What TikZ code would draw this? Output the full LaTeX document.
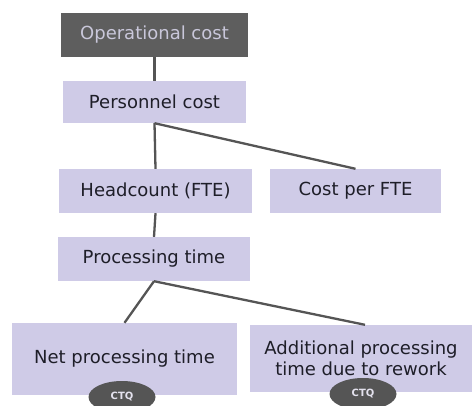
\documentclass[tikz,border=0pt]{standalone}
\usepackage{fontspec}
\setmainfont{DejaVu Sans}
\usetikzlibrary{shapes.geometric}
\definecolor{darkbox}{HTML}{5E5E5E}
\definecolor{darktext}{HTML}{C9C7DA}
\definecolor{lavender}{HTML}{CFCBE7}
\definecolor{linkgray}{HTML}{555555}
\definecolor{inktext}{HTML}{1E1E28}
\definecolor{ctqtext}{HTML}{E4E2EE}
\tikzset{
  box/.style={rectangle, fill=lavender, inner sep=0pt, text=inktext,
    font=\fontsize{18}{21}\selectfont, align=center},
  topbox/.style={box, fill=darkbox, text=darktext},
  link/.style={draw=linkgray, line width=2.3pt},
  ctq/.style={ellipse, fill=linkgray, text=ctqtext, inner sep=0pt,
    minimum width=67pt, minimum height=32pt,
    font=\fontsize{10}{11}\selectfont\bfseries}
}
\begin{document}
\begin{tikzpicture}[x=1pt,y=-1pt]
  \clip (0,0) rectangle (473,406);
  \fill[white] (0,0) rectangle (473,406);

  \node[topbox, minimum width=187pt, minimum height=44pt] (op) at (154.5,35) {Operational cost};
  \node[box, minimum width=183pt, minimum height=42pt] (pc) at (154.5,102) {Personnel cost};
  \node[box, minimum width=193pt, minimum height=44pt] (hc) at (155.5,191) {Headcount (FTE)};
  \node[box, minimum width=171pt, minimum height=44pt] (cf) at (355.5,191) {Cost per FTE};
  \node[box, minimum width=192pt, minimum height=44pt] (pt) at (154,259) {Processing time};
  \node[box, minimum width=225pt, minimum height=72pt] (np) at (124.5,359) {Net processing time};
  \node[box, minimum width=222pt, minimum height=67pt] (ap) at (361,358.5) {Additional processing\\time due to rework};

  \node[ctq] (c1) at (122,397) {CTQ};
  \node[ctq] (c2) at (363,394) {CTQ};

  \draw[link] (op.south) -- (pc.north);
  \draw[link] (pc.south) -- (hc.north);
  \draw[link] (pc.south) -- (cf.north);
  \draw[link] (hc.south) -- (pt.north);
  \draw[link] (pt.south) -- (np.north);
  \draw[link] (pt.south) -- ([xshift=4pt]ap.north);
\end{tikzpicture}
\end{document}
